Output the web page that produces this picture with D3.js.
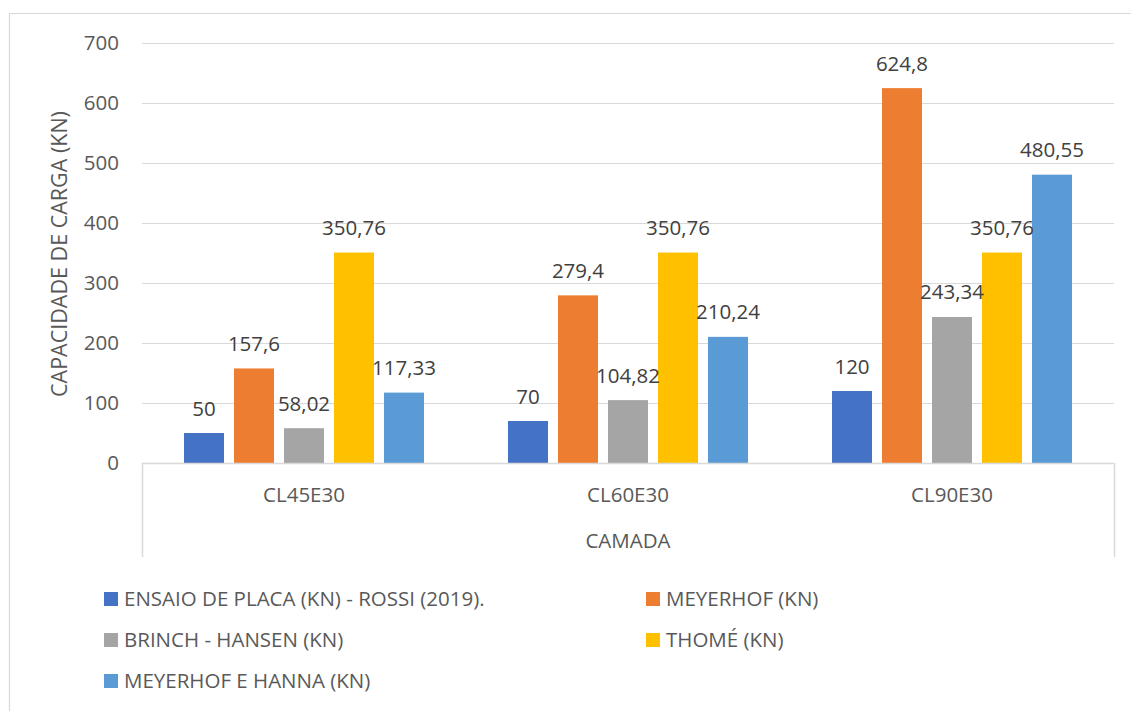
<!DOCTYPE html>
<html>
<head>
<meta charset="utf-8">
<script src="https://cdn.jsdelivr.net/npm/d3@7"></script>
<style>
  body { margin: 0; background: #fff; }
  text { font-family: "Open Sans", "Noto Sans", sans-serif; fill: #595959; }
</style>
</head>
<body>
<script>
var width = 1131,
    height = 711;

// data
var categories = ["CL45E30", "CL60E30", "CL90E30"];
var seriesNames = [
  "ENSAIO DE PLACA (KN) - ROSSI (2019).",
  "MEYERHOF (KN)",
  "BRINCH - HANSEN (KN)",
  "THOMÉ (KN)",
  "MEYERHOF E HANNA (KN)"
];
var seriesColors = ["#4472C4", "#ED7D31", "#A5A5A5", "#FFC000", "#5B9BD5"];
var ensaio = [50, 70, 120];
var meyerhof = [157.6, 279.4, 624.8];
var brinch = [58.02, 104.82, 243.34];
var thome = [350.76, 350.76, 350.76];
var hanna = [117.33, 210.24, 480.55];
var yTicks = [0, 100, 200, 300, 400, 500, 600, 700];

var seriesValues = [ensaio, meyerhof, brinch, thome, hanna];

var margin = {left: 142, right: 1114, top: 43, bottom: 463};

var svg = d3.select("body").append("svg")
    .attr("width", width)
    .attr("height", height);

// outer chart frame (only top and left edges fall in view)
svg.append("path")
    .attr("d", "M9.5," + height + "V13.5H" + width)
    .attr("fill", "none")
    .attr("stroke", "#d9d9d9")
    .attr("stroke-width", 1.2);

var y = d3.scaleLinear()
    .domain([0, 700])
    .range([margin.bottom, margin.top]);

var x0 = d3.scaleBand()
    .domain(categories)
    .range([margin.left, margin.right]);

var groupW = 250;
var x1 = d3.scaleBand()
    .domain(d3.range(seriesNames.length))
    .range([(x0.bandwidth() - groupW) / 2, (x0.bandwidth() + groupW) / 2])
    .paddingInner(0.2)
    .paddingOuter(0.1);

// gridlines
svg.append("g")
    .selectAll("line")
    .data(yTicks.filter(function(d) { return d > 0; }))
    .enter().append("line")
    .attr("x1", margin.left)
    .attr("x2", margin.right)
    .attr("y1", function(d) { return Math.round(y(d)) + 0.5; })
    .attr("y2", function(d) { return Math.round(y(d)) + 0.5; })
    .attr("stroke", "#d9d9d9")
    .attr("stroke-width", 1.2);

// y tick labels
svg.append("g")
    .selectAll("text")
    .data(yTicks)
    .enter().append("text")
    .attr("x", 119)
    .attr("y", function(d) { return y(d); })
    .attr("dy", "0.36em")
    .attr("text-anchor", "end")
    .style("font-size", "20.5px")
    .text(function(d) { return d; });

// bars
var groups = svg.append("g")
    .selectAll("g")
    .data(categories)
    .enter().append("g")
    .attr("transform", function(d) { return "translate(" + x0(d) + ",0)"; });

groups.selectAll("rect")
    .data(function(d, ci) { return seriesValues.map(function(s, si) { return {si: si, v: s[ci]}; }); })
    .enter().append("rect")
    .attr("x", function(d) { return x1(d.si); })
    .attr("width", x1.bandwidth())
    .attr("y", function(d) { return y(d.v); })
    .attr("height", function(d) { return y(0) - y(d.v); })
    .attr("fill", function(d) { return seriesColors[d.si]; });

groups.selectAll("text.lbl")
    .data(function(d, ci) { return seriesValues.map(function(s, si) { return {si: si, v: s[ci]}; }); })
    .enter().append("text")
    .attr("class", "lbl")
    .attr("x", function(d) { return x1(d.si) + x1.bandwidth() / 2; })
    .attr("y", function(d) { return y(d.v) - 17.5; })
    .attr("text-anchor", "middle")
    .style("font-size", "20.5px")
    .style("fill", "#404040")
    .text(function(d) { return String(d.v).replace(".", ","); });

// category axis: baseline and outer separators
svg.append("line")
    .attr("x1", margin.left).attr("x2", margin.right)
    .attr("y1", margin.bottom + 0.5).attr("y2", margin.bottom + 0.5)
    .attr("stroke", "#d9d9d9")
    .attr("stroke-width", 1.5);

svg.append("g")
    .selectAll("line")
    .data([margin.left, margin.right])
    .enter().append("line")
    .attr("x1", function(d) { return d + 0.5; })
    .attr("x2", function(d) { return d + 0.5; })
    .attr("y1", margin.bottom)
    .attr("y2", 557)
    .attr("stroke", "#d9d9d9")
    .attr("stroke-width", 1.5);

svg.append("g")
    .selectAll("text")
    .data(categories)
    .enter().append("text")
    .attr("x", function(d) { return x0(d) + x0.bandwidth() / 2; })
    .attr("y", 502)
    .attr("text-anchor", "middle")
    .style("font-size", "20.5px")
    .text(function(d) { return d; });

// axis titles
svg.append("text")
    .attr("x", (margin.left + margin.right) / 2)
    .attr("y", 548)
    .attr("text-anchor", "middle")
    .style("font-size", "20.5px")
    .text("CAMADA");

svg.append("text")
    .attr("transform", "translate(67," + ((margin.top + margin.bottom) / 2 + 1) + ") rotate(-90)")
    .attr("text-anchor", "middle")
    .style("font-size", "21.5px")
    .text("CAPACIDADE DE CARGA (KN)");

// legend
var legendX = [104, 646],
    legendY = [599, 640, 681];

var legend = svg.append("g")
    .selectAll("g")
    .data(seriesNames)
    .enter().append("g")
    .attr("transform", function(d, i) {
      return "translate(" + legendX[i % 2] + "," + legendY[Math.floor(i / 2)] + ")";
    });

legend.append("rect")
    .attr("x", 0)
    .attr("y", -7)
    .attr("width", 14)
    .attr("height", 14)
    .attr("fill", function(d, i) { return seriesColors[i]; });

legend.append("text")
    .attr("x", 20)
    .attr("y", 0)
    .attr("dy", "0.36em")
    .style("font-size", "20.5px")
    .text(function(d) { return d; });
</script>
</body>
</html>
